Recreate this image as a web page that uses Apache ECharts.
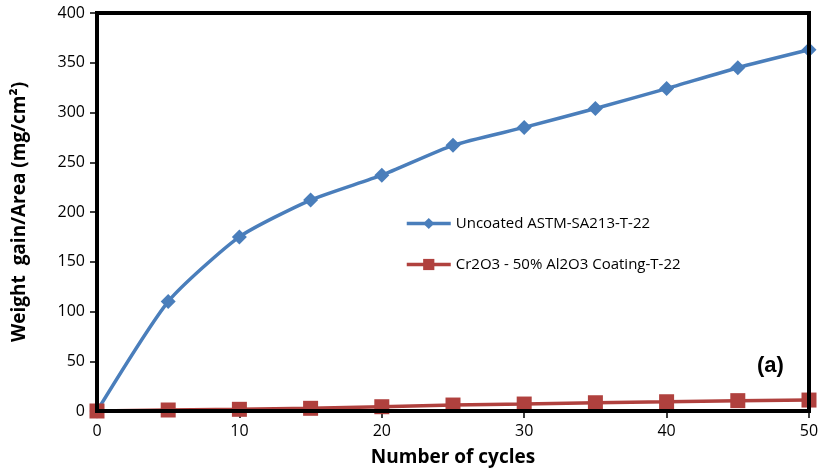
<!DOCTYPE html>
<html><head><meta charset="utf-8">
<script src="https://cdn.jsdelivr.net/npm/echarts@6/dist/echarts.min.js"></script>
<style>html,body{margin:0;padding:0;background:#fff}#c{width:824px;height:474px}</style>
</head><body><div id="c"></div>
<script>
var cycles = [0, 5, 10, 15, 20, 25, 30, 35, 40, 45, 50];
var uncoated = [0, 110, 175, 212, 237, 267, 285, 304, 324, 345, 363];
var coated = [0, 1, 1.7, 2.7, 4.3, 6, 7, 8.3, 9.3, 10.4, 11];
var seriesNames = ['Uncoated ASTM-SA213-T-22', 'Cr2O3 - 50% Al2O3 Coating-T-22'];

var font = 'Open Sans';
var chart = echarts.init(document.getElementById('c'));
function pairs(vals){ return cycles.map(function(c,i){ return [c, vals[i]]; }); }
chart.setOption({
  animation: false,
  textStyle: { fontFamily: font },
  grid: { left: 97, right: 15, top: 13, bottom: 63, show: false, containLabel: false },
  legend: {
    orient: 'vertical', left: 400, top: 211, itemGap: 26, itemWidth: 44, itemHeight: 14,
    lineStyle: { width: 3.5 },
    textStyle: { fontFamily: font, fontSize: 15, color: '#000' },
    data: seriesNames
  },
  xAxis: {
    type: 'value', min: 0, max: 50, interval: 10,
    name: 'Number of cycles', nameLocation: 'middle', nameGap: 37,
    nameTextStyle: { fontFamily: font, fontSize: 19, fontWeight: 'bold', color: '#000' },
    axisLine: { show: false },
    axisTick: { show: true, length: 7, lineStyle: { color: '#000', width: 1.5 } },
    axisLabel: { fontFamily: font, fontSize: 16, color: '#000', margin: 12 },
    splitLine: { show: false }
  },
  yAxis: {
    type: 'value', min: 0, max: 400, interval: 50,
    name: 'Weight  gain/Area (mg/cm\u00b2)', nameLocation: 'middle', nameGap: 68,
    nameTextStyle: { fontFamily: font, fontSize: 19, fontWeight: 'bold', color: '#000' },
    axisLine: { show: false },
    axisTick: { show: true, length: 7, lineStyle: { color: '#000', width: 1.5 } },
    axisLabel: { fontFamily: font, fontSize: 16, color: '#000', margin: 12 },
    splitLine: { show: false }
  },
  series: [
    { name: seriesNames[0], type: 'line', data: pairs(uncoated), smooth: 0.2,
      symbol: 'diamond', symbolSize: 15, z: 3, clip: false,
      lineStyle: { color: '#4a7ebb', width: 3.5 }, itemStyle: { color: '#4a7ebb' } },
    { name: seriesNames[1], type: 'line', data: pairs(coated), clip: false,
      symbol: 'rect', symbolSize: 15, z: 4,
      lineStyle: { color: '#b0413e', width: 3.5 }, itemStyle: { color: '#b0413e' } }
  ]
});
var p0 = chart.convertToPixel({ gridIndex: 0 }, [0, 0]);
var p1 = chart.convertToPixel({ gridIndex: 0 }, [50, 400]);
var L = Math.round(p0[0]), B = Math.round(p0[1]), R = Math.round(p1[0]), T = Math.round(p1[1]);
var W = 4;
chart.setOption({
  graphic: [
    { type: 'rect', z: 100, zlevel: 1, silent: true, shape: { x: L - W / 2, y: T - W / 2, width: R - L + W, height: W }, style: { fill: '#000' } },
    { type: 'rect', z: 100, zlevel: 1, silent: true, shape: { x: L - W / 2, y: B - W / 2, width: R - L + W, height: W }, style: { fill: '#000' } },
    { type: 'rect', z: 100, zlevel: 1, silent: true, shape: { x: L - W / 2, y: T - W / 2, width: W, height: B - T + W }, style: { fill: '#000' } },
    { type: 'rect', z: 100, zlevel: 1, silent: true, shape: { x: R - W / 2, y: T - W / 2, width: W, height: B - T + W }, style: { fill: '#000' } },
    { type: 'text', left: 757, top: 355, z: 5, style: { text: '(a)', font: 'bold 22px Liberation Sans', fill: '#000' } }
  ]
});
</script></body></html>
